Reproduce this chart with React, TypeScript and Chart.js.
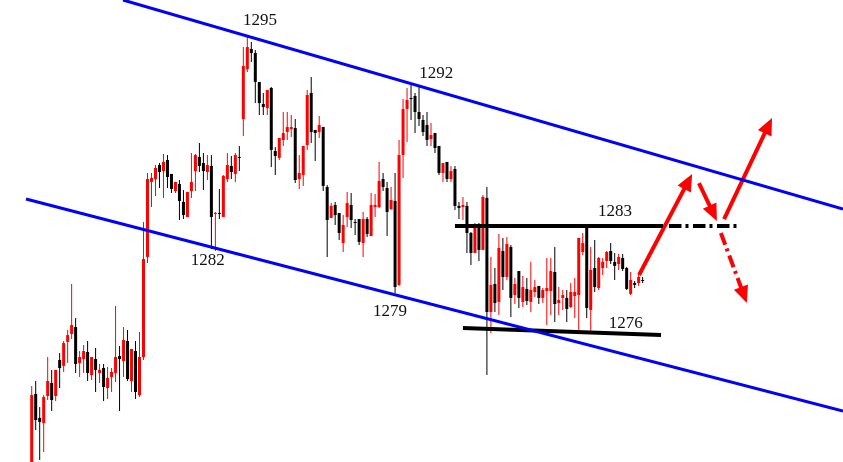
import React, { useEffect, useRef } from "react";
import { Chart, registerables } from "chart.js";

Chart.register(...registerables);

// ---- Candle data (price) ----
const opens = [
  1268.24, 1272.68, 1271.18, 1270.86, 1272.55, 1273.36, 1272.55, 1274.8, 1274.43, 1275.93,
  1276.43, 1276.86, 1274.61, 1274.86, 1275.3, 1273.86, 1274.86, 1273.99, 1274.3, 1273.05,
  1273.74, 1273.99, 1275.05, 1274.74, 1275.99, 1273.49, 1275.36, 1272.61, 1274.99, 1281.24,
  1285.93, 1286.11, 1286.99, 1286.61, 1287.3, 1286.43, 1285.36, 1285.8, 1284.68, 1283.74,
  1285.36, 1286.61, 1287.49, 1287.11, 1286.55, 1286.93, 1283.93, 1283.99, 1283.74, 1286.11,
  1286.93, 1286.43, 1287.49, 1289.86, 1292.99, 1294.24, 1293.99, 1292.18, 1290.8, 1290.55,
  1291.8, 1287.86, 1287.43, 1288.55, 1289.05, 1289.24, 1289.3, 1286.11, 1286.36, 1288.24,
  1291.49, 1289.18, 1289.05, 1289.36, 1285.61, 1283.68, 1284.49, 1283.99, 1282.11, 1283.74,
  1284.49, 1283.43, 1283.61, 1282.11, 1283.61, 1282.55, 1284.36, 1284.36, 1286.11, 1285.55,
  1284.24, 1284.74, 1279.49, 1287.61, 1290.49, 1291.18, 1291.3, 1290.3, 1289.8, 1289.49,
  1288.61, 1288.99, 1288.18, 1286.49, 1287.18, 1286.11, 1286.74, 1284.43, 1284.36, 1284.43,
  1282.74, 1281.49, 1283.11, 1281.68, 1284.93, 1277.8, 1279.55, 1278.43, 1281.61, 1279.99,
  1281.86, 1278.86, 1280.36, 1278.43, 1279.24, 1278.43, 1279.05, 1279.43, 1278.68, 1279.11,
  1279.11, 1280.3, 1278.36, 1278.68, 1278.68, 1278.11, 1278.8, 1278.86, 1281.55, 1283.05,
  1277.93, 1280.55, 1279.3, 1280.55, 1280.99, 1281.61, 1280.93, 1280.8, 1281.18, 1280.55,
  1278.93, 1279.61, 1279.61, 1279.8,
];
const highs = [
  1273.18, 1273.49, 1271.86, 1272.61, 1274.99, 1274.18, 1274.18, 1275.24, 1275.99, 1276.68,
  1279.55, 1277.43, 1275.36, 1275.74, 1275.99, 1274.99, 1275.55, 1274.55, 1274.55, 1274.36,
  1274.3, 1278.18, 1275.68, 1276.86, 1276.68, 1275.49, 1275.99, 1276.55, 1283.43, 1286.49,
  1286.49, 1286.99, 1287.11, 1287.68, 1287.61, 1286.43, 1285.93, 1286.05, 1285.43, 1285.3,
  1287.74, 1287.68, 1288.36, 1287.74, 1287.61, 1287.61, 1284.05, 1285.49, 1286.36, 1287.74,
  1287.55, 1287.74, 1288.18, 1294.36, 1295.05, 1294.68, 1294.18, 1292.18, 1291.49, 1291.68,
  1291.86, 1288.11, 1288.68, 1290.3, 1290.3, 1290.11, 1289.86, 1287.61, 1288.18, 1291.68,
  1292.49, 1289.18, 1290.05, 1289.36, 1285.74, 1284.61, 1284.68, 1283.99, 1283.86, 1285.3,
  1285.24, 1283.61, 1283.61, 1284.05, 1283.74, 1285.24, 1285.18, 1287.18, 1286.49, 1285.93,
  1285.61, 1286.49, 1288.55, 1291.11, 1291.8, 1291.99, 1291.49, 1291.93, 1290.11, 1290.3,
  1289.61, 1288.99, 1288.18, 1287.11, 1287.18, 1286.93, 1286.93, 1284.68, 1284.99, 1284.68,
  1282.8, 1283.36, 1283.36, 1285.11, 1285.61, 1281.24, 1280.55, 1282.68, 1282.43, 1282.49,
  1281.99, 1279.93, 1280.36, 1280.05, 1279.93, 1280.93, 1279.8, 1279.43, 1279.3, 1281.18,
  1281.18, 1281.86, 1279.36, 1279.18, 1279.18, 1279.61, 1279.93, 1282.43, 1282.74, 1283.05,
  1281.86, 1282.3, 1281.24, 1281.18, 1281.61, 1282.11, 1281.49, 1281.43, 1281.43, 1280.61,
  1280.3, 1279.74, 1280.18, 1279.99,
];
const lows = [
  1267.8, 1270.43, 1268.55, 1269.05, 1272.3, 1271.61, 1272.24, 1273.05, 1274.05, 1274.61,
  1276.11, 1273.99, 1273.74, 1273.99, 1273.49, 1273.55, 1272.8, 1273.36, 1272.24, 1272.36,
  1272.8, 1273.43, 1271.61, 1273.74, 1273.49, 1272.8, 1272.36, 1272.49, 1274.8, 1280.86,
  1284.36, 1285.05, 1285.55, 1284.93, 1285.55, 1285.24, 1285.24, 1283.55, 1283.61, 1283.74,
  1284.93, 1285.36, 1286.55, 1285.43, 1286.05, 1281.74, 1281.61, 1283.61, 1283.74, 1285.93,
  1286.11, 1285.93, 1286.61, 1288.8, 1292.8, 1293.43, 1290.86, 1290.11, 1290.11, 1290.11,
  1286.86, 1286.36, 1287.3, 1288.18, 1288.55, 1288.74, 1285.86, 1285.49, 1285.68, 1287.93,
  1288.36, 1287.24, 1288.68, 1285.36, 1281.24, 1283.68, 1283.24, 1282.3, 1281.55, 1283.11,
  1283.05, 1282.61, 1281.99, 1281.24, 1282.49, 1282.55, 1283.74, 1284.3, 1285.36, 1282.55,
  1284.18, 1278.99, 1279.43, 1286.18, 1288.43, 1289.8, 1288.99, 1289.43, 1288.8, 1288.18,
  1288.18, 1287.74, 1286.36, 1285.93, 1285.93, 1285.93, 1284.18, 1283.61, 1283.55, 1281.49,
  1280.74, 1281.49, 1280.99, 1281.68, 1273.86, 1276.49, 1277.8, 1277.61, 1279.18, 1279.8,
  1277.49, 1278.3, 1278.05, 1278.11, 1278.24, 1277.8, 1278.74, 1278.3, 1278.36, 1276.99,
  1277.61, 1277.18, 1277.61, 1277.93, 1277.18, 1278.05, 1277.43, 1276.55, 1281.36, 1277.43,
  1276.55, 1279.05, 1279.18, 1280.11, 1280.55, 1280.8, 1279.8, 1280.43, 1280.36, 1279.18,
  1278.86, 1279.3, 1279.43, 1279.61,
];
const closes = [
  1272.61, 1271.05, 1270.93, 1272.49, 1273.49, 1272.3, 1274.18, 1274.3, 1275.86, 1276.36,
  1276.99, 1274.55, 1274.99, 1275.36, 1273.99, 1274.99, 1274.18, 1274.18, 1273.11, 1273.68,
  1274.05, 1274.99, 1274.86, 1276.05, 1273.61, 1275.49, 1272.8, 1274.99, 1281.11, 1286.11,
  1286.18, 1286.8, 1286.55, 1287.18, 1286.24, 1285.49, 1285.93, 1284.74, 1283.86, 1285.3,
  1285.93, 1287.61, 1286.93, 1286.61, 1286.99, 1283.74, 1283.99, 1283.93, 1286.3, 1286.99,
  1286.55, 1287.61, 1287.43, 1293.18, 1294.36, 1293.99, 1292.18, 1290.86, 1290.61, 1291.68,
  1287.93, 1287.55, 1288.68, 1288.99, 1289.36, 1289.36, 1286.05, 1286.49, 1288.18, 1291.36,
  1289.05, 1288.99, 1289.49, 1285.68, 1283.55, 1284.43, 1283.86, 1282.74, 1283.24, 1284.61,
  1283.55, 1283.36, 1282.18, 1283.61, 1282.68, 1284.49, 1284.49, 1285.99, 1285.61, 1284.05,
  1284.8, 1279.36, 1287.61, 1290.49, 1291.05, 1291.11, 1290.3, 1289.86, 1289.05, 1288.55,
  1288.86, 1288.05, 1286.49, 1287.11, 1286.11, 1286.61, 1284.43, 1284.3, 1284.49, 1282.74,
  1281.49, 1283.11, 1281.68, 1284.99, 1277.8, 1279.49, 1278.36, 1281.8, 1279.99, 1282.05,
  1278.68, 1279.55, 1278.68, 1279.36, 1278.49, 1279.18, 1279.36, 1278.68, 1279.18, 1279.3,
  1280.36, 1278.3, 1278.55, 1278.86, 1277.99, 1279.05, 1279.05, 1282.43, 1282.11, 1278.05,
  1280.43, 1279.36, 1281.18, 1280.93, 1281.55, 1280.99, 1280.68, 1281.24, 1280.49, 1279.24,
  1279.8, 1279.49, 1279.99, 1279.74,
];

// ---- Axis ranges (bar index / price) ----
const xRange = [-7.94, 203.18];
const yRange = [1268.425, 1297.3];

// ---- Trend lines [x0, x1] / [y0, y1] ----
const upperChannelX = [22.86, 203.18];
const upperChannelY = [1297.3, 1284.24];
const lowerChannelX = [-1.43, 203.18];
const lowerChannelY = [1284.86, 1271.61];
const resistanceX = [106.0, 158.1];
const resistanceY = [1283.18, 1283.18];
const resistanceDashX = [159.6, 176.6];
const resistanceDashY = [1283.18, 1283.18];
const supportX = [108.0, 157.6];
const supportY = [1276.8, 1276.36];

// ---- Arrows [tailX, tipX] / [tailY, tipY] ----
const arrowUp1X = [152.1, 165.4];
const arrowUp1Y = [1280.11, 1286.43];
const arrowDownX = [167.1, 171.6];
const arrowDownY = [1285.86, 1283.49];
const arrowUp2X = [173.4, 185.4];
const arrowUp2Y = [1283.61, 1289.93];
const arrowDown2X = [172.6, 179.1];
const arrowDown2Y = [1282.74, 1278.36];

// ---- Price annotations ----
const labelTexts = ["1295", "1292", "1282", "1279", "1283", "1276"];
const labelX = [57.2, 101.3, 44.1, 89.7, 146.1, 148.8];
const labelY = [1295.99, 1292.68, 1280.99, 1277.86, 1284.05, 1277.05];

const RED = "#ff0000";
const BLACK = "#000000";
const BLUE = "#0000ff";

function seg(xs: number[], ys: number[]) {
  return xs.map((x, i) => ({ x, y: ys[i] }));
}

const arrowPlugin = {
  id: "arrowHeads",
  beforeDatasetDraw(chart: any, args: any) {
    const ds = chart.data.datasets[args.index];
    if (!ds.arrowHead) return;
    const pts = args.meta.data;
    const a = pts[pts.length - 2];
    const b = pts[pts.length - 1];
    const ang = Math.atan2(b.y - a.y, b.x - a.x);
    const ux = Math.cos(ang), uy = Math.sin(ang);
    const nx = -uy, ny = ux;
    const L = 14, W = 4;
    const bx = b.x - ux * L, by = b.y - uy * L;
    const ex = b.x + ux * 3, ey = b.y + uy * 3;
    const ctx = chart.ctx;
    ctx.save();
    ctx.beginPath();
    ctx.rect(0, 0, chart.width, chart.height);
    ctx.moveTo(bx + nx * W, by + ny * W);
    ctx.lineTo(ex + nx * W, ey + ny * W);
    ctx.lineTo(ex - nx * W, ey - ny * W);
    ctx.lineTo(bx - nx * W, by - ny * W);
    ctx.closePath();
    ctx.clip("evenodd");
  },
  afterDatasetDraw(chart: any, args: any) {
    const ds = chart.data.datasets[args.index];
    if (!ds.arrowHead) return;
    const ctx = chart.ctx;
    ctx.restore();
    const pts = args.meta.data;
    const a = pts[pts.length - 2];
    const b = pts[pts.length - 1];
    const ang = Math.atan2(b.y - a.y, b.x - a.x);
    const ux = Math.cos(ang), uy = Math.sin(ang);
    const nx = -uy, ny = ux;
    const L = 17, H = 7.5;
    const bx = b.x - ux * L, by = b.y - uy * L;
    ctx.save();
    ctx.fillStyle = ds.borderColor;
    ctx.beginPath();
    ctx.moveTo(b.x, b.y);
    ctx.lineTo(bx + nx * H, by + ny * H);
    ctx.lineTo(bx - nx * H, by - ny * H);
    ctx.closePath();
    ctx.fill();
    ctx.restore();
  },
};

const labelPlugin = {
  id: "priceLabels",
  afterDatasetsDraw(chart: any) {
    const ctx = chart.ctx;
    const xs = chart.scales.x;
    const ys = chart.scales.y;
    ctx.save();
    ctx.font = "17px 'Liberation Serif', 'DejaVu Serif', serif";
    ctx.fillStyle = "#111111";
    ctx.textAlign = "center";
    ctx.textBaseline = "middle";
    labelTexts.forEach((t, i) => {
      ctx.fillText(t, xs.getPixelForValue(labelX[i]), ys.getPixelForValue(labelY[i]));
    });
    ctx.restore();
  },
};

function lineDs(xs: number[], ys: number[], color: string, width: number, dash: number[] = [], arrow = false) {
  return {
    type: "line" as const,
    data: seg(xs, ys),
    borderColor: color,
    backgroundColor: color,
    borderWidth: width,
    borderDash: dash,
    borderCapStyle: "butt",
    pointRadius: 0,
    pointHoverRadius: 0,
    fill: false,
    tension: 0,
    order: 0,
    arrowHead: arrow,
  };
}

export default function App() {
  const ref = useRef<HTMLCanvasElement | null>(null);

  useEffect(() => {
    document.body.style.margin = "0";
    const canvas = ref.current;
    if (!canvas) return;

    const wickData = highs.map((h, i) => ({ x: i, y: [lows[i], h] }));
    const bodyData = opens.map((o, i) => ({
      x: i,
      y: [Math.min(o, closes[i]), Math.max(o, closes[i])],
    }));
    const colors = opens.map((o, i) => (closes[i] >= o ? RED : BLACK));

    const dashDot = [12.5, 4, 3, 4.5];

    const chart = new Chart(canvas, {
      type: "bar",
      data: {
        datasets: [
          {
            type: "bar",
            data: wickData as any,
            backgroundColor: colors,
            borderWidth: 0,
            barThickness: 1,
            grouped: false,
            inflateAmount: 0,
            order: 2,
          } as any,
          {
            type: "bar",
            data: bodyData as any,
            backgroundColor: colors,
            borderWidth: 0,
            barThickness: 3,
            minBarLength: 1,
            grouped: false,
            inflateAmount: 0,
            order: 1,
          } as any,
          lineDs(upperChannelX, upperChannelY, BLUE, 3) as any,
          lineDs(lowerChannelX, lowerChannelY, BLUE, 3) as any,
          lineDs(resistanceX, resistanceY, BLACK, 4) as any,
          lineDs(resistanceDashX, resistanceDashY, BLACK, 4, dashDot) as any,
          lineDs(supportX, supportY, BLACK, 4) as any,
          lineDs(arrowUp1X, arrowUp1Y, RED, 4, [], true) as any,
          lineDs(arrowDownX, arrowDownY, RED, 4, [], true) as any,
          lineDs(arrowUp2X, arrowUp2Y, RED, 4, [], true) as any,
          lineDs(arrowDown2X, arrowDown2Y, RED, 4, dashDot, true) as any,
        ],
      },
      options: {
        animation: false,
        responsive: false,
        devicePixelRatio: 1,
        layout: { padding: 0 },
        plugins: {
          legend: { display: false },
          tooltip: { enabled: false },
        },
        events: [],
        scales: {
          x: {
            type: "linear",
            display: false,
            min: xRange[0],
            max: xRange[1],
            offset: false,
            grid: { display: false },
          },
          y: {
            type: "linear",
            display: false,
            min: yRange[0],
            max: yRange[1],
            beginAtZero: false,
            grid: { display: false },
          },
        },
      } as any,
      plugins: [arrowPlugin as any, labelPlugin as any],
    });

    return () => chart.destroy();
  }, []);

  return (
    <div style={{ position: "absolute", left: 0, top: 0, width: 843, height: 462, background: "#fff" }}>
      <canvas ref={ref} width={843} height={462} style={{ display: "block" }} />
    </div>
  );
}
